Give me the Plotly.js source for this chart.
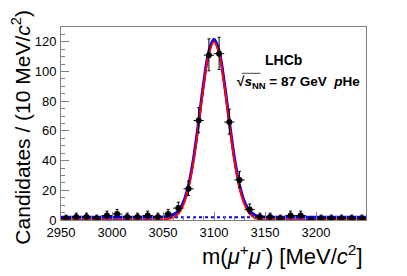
<!DOCTYPE html>
<html>
<head>
<meta charset="utf-8">
<script src="https://cdn.plot.ly/plotly-3.0.1.min.js"></script>
<style>html,body{margin:0;padding:0;background:#fff;}#chart{width:407px;height:276px;}</style>
</head>
<body>
<div id="chart"></div>
<script>
// Data points (bin centres, 10 MeV bins)
const binCentres = [2955,2965,2975,2985,2995,3005,3015,3025,3035,3045,3055,3065,3075,3085,3095,3105,3115,3125,3135,3145,3155,3165,3175,3185,3195,3205,3215,3225,3235,3245];
const counts     = [1,2,2,1,3,4,2,2,3,2,4,8,21,67,111,112,66,27,7,2,2,1,3,3,0,1,1,1,1,1];
const errUp      = [2.30,2.64,2.64,2.30,2.92,3.16,2.64,2.64,2.92,2.64,3.16,3.98,5.12,8.7,11.0,11.1,8.6,5.73,3.77,2.64,2.64,2.30,2.92,2.92,1.84,2.30,2.30,2.30,2.30,2.30];
const errDown    = [0.83,1.29,1.29,0.83,1.63,1.91,1.29,1.29,1.63,1.29,1.91,2.57,4.55,8.2,10.5,10.6,8.1,5.16,2.42,1.29,1.29,0.83,1.63,1.63,0,0.83,0.83,0.83,0.83,0.83];
const binHalfWidth = [5,5,5,5,5,5,5,5,5,5,5,5,5,5,5,5,5,5,5,5,5,5,5,5,5,5,5,5,5,5];

// Fit curves
const curveX   = [2950,3030,3040,3050,3055,3060,3065,3070,3075,3080,3085,3090,3095,3100,3105,3110,3115,3120,3125,3130,3135,3140,3145,3150,3160,3250];
const signalY  = [0,0,0.05,0.3,0.8,1.8,4.2,10.2,21.5,40,64.8,91.2,112,120,112,91.2,64.8,40,21.5,10.2,4.2,1.5,0.47,0.12,0,0];
const totalY   = [1.8,1.8,1.85,2.1,2.6,3.6,6.0,12.0,23.3,41.8,66.6,93.0,113.8,121.8,113.8,93.0,66.6,41.8,23.3,12.0,6.0,3.3,2.27,1.92,1.8,1.8];
const bkgX     = [2950,3250];
const bkgY     = [1.8,1.8];

const xTitle = 'm(<i>μ</i><sup>+</sup><i>μ</i><sup>-</sup>) [MeV/<i>c</i><sup>2</sup>]';
const yTitle = 'Candidates / (10 MeV/<i>c</i><sup>2</sup>)';

const font = 'Liberation Sans, Arial, Helvetica, sans-serif';

const traces = [
  {x: bkgX, y: bkgY, mode: 'lines', line: {color: '#0000ff', width: 2, dash: 'dot'}, hoverinfo: 'skip'},
  {x: curveX, y: totalY, mode: 'lines', line: {color: '#0000ff', width: 3, shape: 'spline', smoothing: 1}, hoverinfo: 'skip'},
  {x: curveX, y: signalY, mode: 'lines', line: {color: '#ff0000', width: 2, shape: 'spline', smoothing: 1}, hoverinfo: 'skip'},
  {x: binCentres, y: counts, mode: 'markers', marker: {color: '#000', size: 6},
   error_y: {type: 'data', symmetric: false, array: errUp, arrayminus: errDown, color: '#000', thickness: 1, width: 1.5},
   error_x: {type: 'data', array: binHalfWidth, color: '#000', thickness: 1, width: 0}}
];

const axisCommon = {
  showgrid: false, zeroline: false, showline: true, linecolor: '#808080', linewidth: 1, mirror: true,
  ticks: 'inside', tickcolor: '#808080', tickwidth: 1,
  tickfont: {family: font, size: 13, color: '#000'}
};

const layout = {
  width: 407, height: 276,
  margin: {l: 61, r: 41, t: 27, b: 56},
  paper_bgcolor: '#fff', plot_bgcolor: '#fff',
  showlegend: false,
  xaxis: Object.assign({}, axisCommon, {
    range: [2950, 3249], tick0: 2950, dtick: 50, ticklen: 8,
    minor: {dtick: 10, ticklen: 4, ticks: 'inside', tickcolor: '#808080', showgrid: false},
    ticklabelstandoff: 0
  }),
  yaxis: Object.assign({}, axisCommon, {
    range: [0, 130], tick0: 0, dtick: 20, ticklen: 8,
    minor: {dtick: 5, ticklen: 4, ticks: 'inside', tickcolor: '#808080', showgrid: false},
    ticklabelstandoff: 1
  }),
  annotations: [
    {text: '<b>LHCb</b>', xref: 'paper', yref: 'paper', x: 0.728, y: 0.829, xanchor: 'center', yanchor: 'middle', showarrow: false,
     font: {family: font, size: 14, color: '#000'}},
    {text: '<b>√<i>s</i><sub>NN</sub> = 87 GeV  <i>p</i>He</b>', xref: 'paper', yref: 'paper', x: 0.987, y: 0.715, xanchor: 'right', yanchor: 'middle', showarrow: false,
     font: {family: font, size: 13.5, color: '#000'}},
    {text: yTitle, xref: 'paper', yref: 'paper', x: -0.131, y: 1.098, xanchor: 'center', yanchor: 'top', textangle: -90, showarrow: false,
     font: {family: font, size: 21, color: '#000'}},
    {text: xTitle, xref: 'paper', yref: 'paper', x: 0.997, y: -0.181, xanchor: 'right', yanchor: 'middle', showarrow: false,
     font: {family: font, size: 22, color: '#000'}}
  ],
  shapes: [
    {type: 'line', xref: 'paper', yref: 'paper', x0: 0.593, x1: 0.654, y0: 0.760, y1: 0.760, line: {color: '#444', width: 1}}
  ]
};

Plotly.newPlot('chart', traces, layout, {displayModeBar: false, staticPlot: true});
</script>
</body>
</html>
